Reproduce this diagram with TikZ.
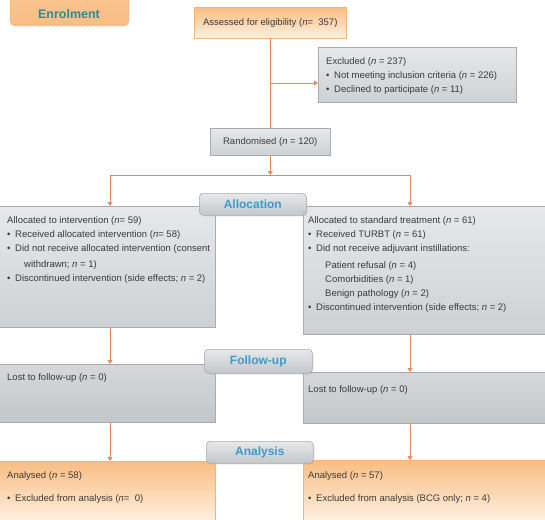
\documentclass[tikz,border=0pt]{standalone}
\usepackage{fontspec}
\setmainfont{Liberation Sans}
\usetikzlibrary{arrows.meta,shadows}
\definecolor{txt}{HTML}{3A3A3A}
\definecolor{lineC}{HTML}{E8875A}
\definecolor{orTop}{HTML}{F9BD82}
\definecolor{orBot}{HTML}{FEF1E2}
\definecolor{orEdge}{HTML}{F2B577}
\definecolor{grTop}{HTML}{E6E8EA}
\definecolor{grBot}{HTML}{CED1D4}
\definecolor{grEdge}{HTML}{A9ACAF}
\definecolor{lblBlue}{HTML}{3B9CCB}
\newcommand{\nn}{\textit{n}}
\newcommand{\bul}{\makebox[8pt][l]{•}}
\tikzset{
  x=1pt,y=-1pt,
  obox/.style={draw=orEdge,line width=0.5pt,top color=orTop,bottom color=orBot,inner sep=0pt,anchor=north west},
  gbox/.style={draw=grEdge,line width=0.5pt,top color=grTop,bottom color=grBot,inner sep=0pt,anchor=north west},
  gboxd/.style={draw=grEdge,line width=0.5pt,top color=grBot!85!white,bottom color=grBot!95!black,inner sep=0pt,anchor=north west},
  lbl/.style={draw=grEdge,line width=0.6pt,top color=grTop,bottom color=grBot!95!black,rounded corners=4pt,inner sep=0pt,font=\fontsize{12}{14}\selectfont\bfseries,text=lblBlue,anchor=north west,drop shadow={shadow xshift=1pt,shadow yshift=-1pt,opacity=0.25}},
  tx/.style={font=\fontsize{9.5}{14}\selectfont,text=txt,align=left,inner sep=0pt,anchor=north west},
  conn/.style={draw=lineC,line width=0.7pt},
  arr/.style={conn,-{Triangle[width=5pt,length=4pt]}},
}
\begin{document}
\begin{tikzpicture}
\useasboundingbox (0,0) rectangle (545,519);
\fill[white] (0,0) rectangle (545,519);

% Enrolment label
\node[lbl,draw=orEdge,top color=orTop!85!white,bottom color=orTop,minimum width=118pt,minimum height=34pt] (enrol) at (10,-9) {};
\node[font=\fontsize{12.5}{14}\selectfont\bfseries,text=lblBlue!80!black!90!green,inner sep=0pt] (enrolT) at (69,14) {Enrolment};

% Assessed
\node[obox,minimum width=152pt,minimum height=31pt] (assess) at (194,7) {};
\node[tx,anchor=center] (assessT) at (assess.center) {Assessed for eligibility (\nn= \ 357)};

% Excluded
\node[gbox,minimum width=198pt,minimum height=55pt] (excl) at (318,47) {};
\node[tx] (exclT) at (326,57) {Excluded (\nn{} = 237)\\
\bul Not meeting inclusion criteria (\nn{} = 226)\\
\bul Declined to participate (\nn{} = 11)};

% Randomised
\node[gbox,minimum width=120pt,minimum height=27pt] (rand) at (210,128) {};
\node[tx,anchor=center] (randT) at (rand.center) {Randomised (\nn{} = 120)};

% Allocation boxes
\node[gbox,minimum width=218pt,minimum height=121pt] (allocL) at (-3,206) {};
\node[tx] (allocLT) at (7,216) {Allocated to intervention (\nn= 59)\\
\bul Received allocated intervention (\nn= 58)\\
\bul Did not receive allocated intervention (consent\\[2pt]
\hspace*{17pt}withdrawn; \nn{} = 1)\\
\bul Discontinued intervention (side effects; \nn{} = 2)};

\node[gbox,minimum width=245pt,minimum height=128pt] (allocR) at (303,206) {};
\node[tx] (allocRT) at (308,216) {Allocated to standard treatment (\nn{} = 61)\\
\bul Received TURBT (\nn{} = 61)\\
\bul Did not receive adjuvant instillations:\\[3pt]
\hspace*{17pt}Patient refusal (\nn{} = 4)\\
\hspace*{17pt}Comorbidities (\nn{} = 1)\\
\hspace*{17pt}Benign pathology (\nn{} = 2)\\
\bul Discontinued intervention (side effects; \nn{} = 2)};

\node[lbl,minimum width=107pt,minimum height=22pt] (allocLbl) at (199,193) {Allocation};

% Follow-up boxes
\node[gboxd,minimum width=218pt,minimum height=58pt] (fuL) at (-3,364) {};
\node[tx] (fuLT) at (7,373) {Lost to follow-up (\nn{} = 0)};
\node[gboxd,minimum width=245pt,minimum height=51pt] (fuR) at (303,372) {};
\node[tx] (fuRT) at (308,385) {Lost to follow-up (\nn{} = 0)};
\node[lbl,minimum width=108pt,minimum height=24pt] (fuLbl) at (204,349) {Follow-up};

% Analysis boxes
\node[obox,minimum width=218pt,minimum height=62pt] (anL) at (-3,461) {};
\node[tx] (anLT) at (7,471) {Analysed (\nn{} = 58)\\[9pt]
\bul Excluded from analysis (\nn= \ 0)};
\node[obox,minimum width=245pt,minimum height=62pt] (anR) at (303,460) {};
\node[tx] (anRT) at (308,471) {Analysed (\nn{} = 57)\\[9pt]
\bul Excluded from analysis (BCG only; \nn{} = 4)};
\node[lbl,minimum width=107pt,minimum height=22pt] (anLbl) at (206,441) {Analysis};

% connectors
\coordinate (br) at (assess.south |- 0,83);
\coordinate (split) at (rand.south |- 0,175);
\coordinate (sL) at (110,175);
\coordinate (sR) at (410,175);
\draw[conn] (assess.south) -- (assess.south |- rand.north);
\draw[arr] (br) -- (excl.west |- br);
\draw[arr] (rand.south) -- (split);
\draw[conn] (sL) -- (sR);
\draw[arr] (sL) -- (sL |- allocL.north);
\draw[arr] (sR) -- (sR |- allocR.north);
\draw[arr] (sL |- allocL.south) -- (sL |- fuL.north);
\draw[arr] (sR |- allocR.south) -- (sR |- fuR.north);
\draw[arr] (sL |- fuL.south) -- (sL |- anL.north);
\draw[arr] (sR |- fuR.south) -- (sR |- anR.north);
\end{tikzpicture}
\end{document}
